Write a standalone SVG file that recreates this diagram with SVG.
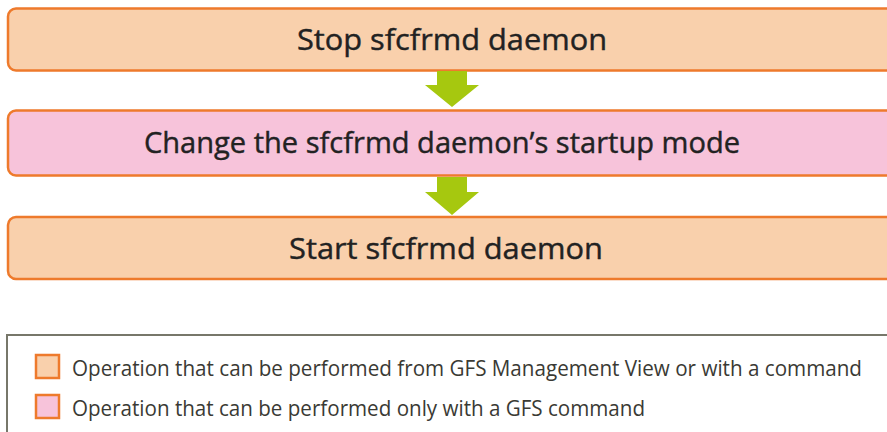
<svg xmlns="http://www.w3.org/2000/svg" width="887" height="432" viewBox="0 0 887 432">
<style>
.box{stroke:#EE7A2C;stroke-width:2.5}
.op1{fill:#F9D0AC}
.op2{fill:#F7C3DA}
.t{font-family:"Open Sans","Noto Sans",sans-serif;fill:#222;stroke:#222;stroke-width:0.4;text-anchor:middle;font-size:29px}
.lt{font-family:"Open Sans","Noto Sans",sans-serif;fill:#3a3a34;font-size:21px}
.arr{fill:#A6C80F}
</style>
<rect width="887" height="432" fill="#fff"/>
<g id="n1">
<rect class="box op1" x="8" y="8.5" width="900" height="62" rx="8"/>
<text class="t" x="452" y="50" textLength="310" lengthAdjust="spacingAndGlyphs">Stop sfcfrmd daemon</text>
</g>
<g id="n2">
<rect class="box op2" x="8" y="110.5" width="900" height="65" rx="8"/>
<text class="t" x="442" y="153" textLength="596" lengthAdjust="spacingAndGlyphs">Change the sfcfrmd daemon’s startup mode</text>
</g>
<g id="n3">
<rect class="box op1" x="8" y="217" width="900" height="62" rx="8"/>
<text class="t" x="446" y="259" textLength="314" lengthAdjust="spacingAndGlyphs">Start sfcfrmd daemon</text>
</g>
<g id="connectors">
<polygon class="arr" points="437,71 467,71 467,85 479,85 452,107 425,85 437,85"/>
<polygon class="arr" points="437,177 467,177 467,192 479,192 452,215 425,192 437,192"/>
</g>
<g id="legend">
<rect x="7" y="335" width="900" height="120" fill="#fff" stroke="#77776a" stroke-width="2"/>
<rect class="box op1" x="36" y="355" width="23" height="23"/>
<text class="lt" x="72" y="376" textLength="790" lengthAdjust="spacingAndGlyphs">Operation that can be performed from GFS Management View or with a command</text>
<rect class="box op2" x="36" y="395" width="23" height="23"/>
<text class="lt" x="72" y="416" textLength="573" lengthAdjust="spacingAndGlyphs">Operation that can be performed only with a GFS command</text>
</g>
</svg>
